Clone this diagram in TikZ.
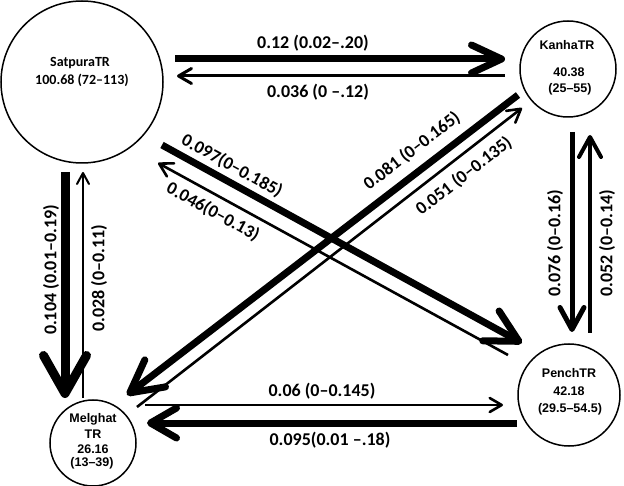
\documentclass[tikz,border=0pt]{standalone}
\usepackage{fontspec}
\setmainfont{Carlito}
\newfontfamily\arialf{Liberation Sans}
\usetikzlibrary{arrows.meta}
\begin{document}
\begin{tikzpicture}[x=1pt,y=-1pt,
 region/.style={circle,draw,line width=1.5pt,inner sep=0pt},
 lbl/.style={font=\fontsize{18}{18}\selectfont\bfseries,inner sep=1pt},
 ntext/.style={font=\arialf\fontsize{12.5}{12.5}\selectfont\bfseries,inner sep=0pt},
 stext/.style={font=\fontsize{14}{14}\selectfont\bfseries,inner sep=0pt},
 barb/.style 2 args={-{Straight Barb[length=#1pt,width=#2pt,round]}},
]
\useasboundingbox[fill=white] (0,0) rectangle (624,486);

% regions
\node[region, minimum size=162pt] (sat) at (82,82) {};
\node[region, minimum size=96pt] (kan) at (568,69) {};
\node[region, minimum size=102pt] (pen) at (569,395) {};
\node[region, minimum size=86pt] (mel) at (93,443) {};

\node[stext] (satn) at (80,63) {SatpuraTR};
\node[stext] (satv) at (82,80) {100.68 (72–113)};
\node[ntext] (kann) at (567,45) {KanhaTR};
\node[ntext] (kanv) at (569,72) {40.38};
\node[ntext] (kanr) at (570,89) {(25–55)};
\node[ntext] (penn) at (569,373) {PenchTR};
\node[ntext] (penv) at (569,391) {42.18};
\node[ntext] (penr) at (570,409) {(29.5–54.5)};
\node[ntext] (meln) at (93,419) {Melghat};
\node[ntext] (melt) at (93,434) {TR};
\node[ntext] (melv) at (93,449) {26.16};
\node[ntext] (melr) at (92,463) {(13–39)};

% connector end points
\coordinate (sk1) at (175,59);   \coordinate (sk2) at (505,59);
\coordinate (ks1) at (505,76);   \coordinate (ks2) at (177,76);
\coordinate (sp1) at (162,145);  \coordinate (sp2) at (522,343);
\coordinate (ps1) at (508,355);  \coordinate (ps2) at (158,163);
\coordinate (km1) at (518,95);   \coordinate (km2) at (127,395);
\coordinate (mk1) at (137,407);  \coordinate (mk2) at (522,108);
\coordinate (sm1) at (65,172);   \coordinate (sm2) at (65,398);
\coordinate (ms1) at (83,398);   \coordinate (ms2) at (83,172);
\coordinate (kp1) at (572,132);  \coordinate (kp2) at (572,332);
\coordinate (pk1) at (590,333);  \coordinate (pk2) at (590,135);
\coordinate (mp1) at (145,405);  \coordinate (mp2) at (503,405);
\coordinate (pm1) at (517,423);  \coordinate (pm2) at (147,423);

\draw[line width=7pt, barb={30}{28}] (sk1) -- (sk2);
\draw[line width=3pt, barb={13}{15}] (ks1) -- (ks2);
\draw[line width=7pt, barb={32}{34}] (sp1) -- (sp2);
\draw[line width=2.6pt, barb={13}{15}] (ps1) -- (ps2);
\draw[line width=7pt, barb={32}{34}] (km1) -- (km2);
\draw[line width=2.6pt, barb={13}{15}] (mk1) -- (mk2);
\draw[line width=9pt, barb={38}{43}] (sm1) -- (sm2);
\draw[line width=2pt, barb={11}{12}] (ms1) -- (ms2);
\draw[line width=5pt, barb={22}{24}] (kp1) -- (kp2);
\draw[line width=4pt, barb={20}{22}] (pk1) -- (pk2);
\draw[line width=2.6pt, barb={12}{14}] (mp1) -- (mp2);
\draw[line width=7pt, barb={26}{30}] (pm1) -- (pm2);

% labels
\node[lbl] (l1) at (313,43) {0.12 (0.02–.20)};
\node[lbl] (l2) at (318,92) {0.036 (0 –.12)};
\node[lbl, rotate=-28.7] (l3) at (232,166) {0.097(0–0.185)};
\node[lbl, rotate=-28.7] (l4) at (213,212) {0.046(0–0.13)};
\node[lbl, rotate=37.5] (l5) at (412,151) {0.081 (0–0.165)};
\node[lbl, rotate=37.8] (l6) at (464,176) {0.051 (0–0.135)};
\node[lbl, rotate=90] (l7) at (51,270) {0.104 (0.01–0.19)};
\node[lbl, rotate=90] (l8) at (99,278) {0.028 (0–0.11)};
\node[lbl, rotate=90] (l9) at (555,243) {0.076 (0–0.16)};
\node[lbl, rotate=90] (l10) at (607,243) {0.052 (0–0.14)};
\node[lbl] (l11) at (322,391) {0.06 (0–0.145)};
\node[lbl] (l12) at (330,440) {0.095(0.01 –.18)};
\end{tikzpicture}
\end{document}
